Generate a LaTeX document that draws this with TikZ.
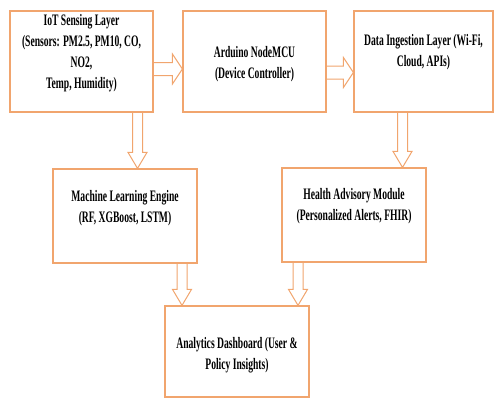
\documentclass[tikz,border=0pt]{standalone}
\usepackage{fontspec}
\setmainfont[FakeStretch=0.6]{Liberation Serif}
\usetikzlibrary{calc,backgrounds}
\definecolor{layerorange}{RGB}{241,165,110}

\begin{document}
\begin{tikzpicture}[x=1pt,y=-1pt]
      \tikzstyle{layer} = [rectangle, draw=layerorange, line width=1.2pt, minimum width=144pt, minimum height=94pt, inner sep=0pt]
      \tikzstyle{caption} = [align=center, inner sep=0pt, font=\fontsize{16}{21}\selectfont\bfseries]
      \tikzstyle{fatdown} = [draw=layerorange, line width=1pt, fill=white, to path={($(\tikztostart)+(-5,0)$) -- ($(\tikztotarget)+(-5,-16)$) -- ($(\tikztotarget)+(-9.5,-16)$) -- (\tikztotarget) -- ($(\tikztotarget)+(9.5,-16)$) -- ($(\tikztotarget)+(5,-16)$) -- ($(\tikztostart)+(5,0)$)}]
      \tikzstyle{fatright} = [draw=layerorange, line width=1pt, fill=white, to path={($(\tikztostart)+(0,-6.5)$) -- ($(\tikztotarget)+(-10,-6.5)$) -- ($(\tikztotarget)+(-10,-15)$) -- (\tikztotarget) -- ($(\tikztotarget)+(-10,15)$) -- ($(\tikztotarget)+(-10,6.5)$) -- ($(\tikztostart)+(0,6.5)$)}]

      \useasboundingbox (0,0) rectangle (494,399);

      % boxes
      \node[layer, minimum width=143pt, minimum height=101pt] (iot) at (81.5,61.5) {};
      \node[layer, minimum width=143pt, minimum height=101pt] (mcu) at (254.5,61.5) {};
      \node[layer, minimum width=139pt, minimum height=101pt] (ingest) at (423.5,61.5) {};
      \node[layer] (ml) at (125,216) {};
      \node[layer] (advisory) at (354,215) {};
      \node[layer, minimum height=91pt] (dashboard) at (237,351.5) {};

      % texts
      \node[caption] (iot-t) at (81.5,53.5) {IoT Sensing Layer\\(Sensors: PM2.5, PM10, CO,\\NO2,\\Temp, Humidity)};
      \node[caption] (mcu-t) at (254.5,64) {Arduino NodeMCU\\(Device Controller)};
      \node[caption] (ingest-t) at (423.5,52.5) {Data Ingestion Layer (Wi-Fi,\\Cloud, APIs)};
      \node[caption] (ml-t) at (125,208) {Machine Learning Engine\\(RF, XGBoost, LSTM)};
      \node[caption] (advisory-t) at (354,206.5) {Health Advisory Module\\(Personalized Alerts, FHIR)};
      \node[caption] (dashboard-t) at (237,355) {Analytics Dashboard (User \&\\Policy Insights)};

      % hollow arrows
      \begin{scope}[on background layer]
      \draw[fatright] ([yshift=-7.5pt]iot.east) to ([yshift=-7.5pt]mcu.west);
      \draw[fatright] ([yshift=-11pt]mcu.east) to ([yshift=-11pt]ingest.west);
      \draw[fatdown] ([xshift=56pt]iot.south) to ([xshift=12.5pt]ml.north);
      \draw[fatdown] ([xshift=-21pt]ingest.south) to ([xshift=48.5pt]advisory.north);
      \draw[fatdown] ([xshift=57pt]ml.south) to ([xshift=-55pt]dashboard.north);
      \draw[fatdown] ([xshift=-56pt]advisory.south) to ([xshift=61pt]dashboard.north);
      \end{scope}
    \end{tikzpicture}
\end{document}
